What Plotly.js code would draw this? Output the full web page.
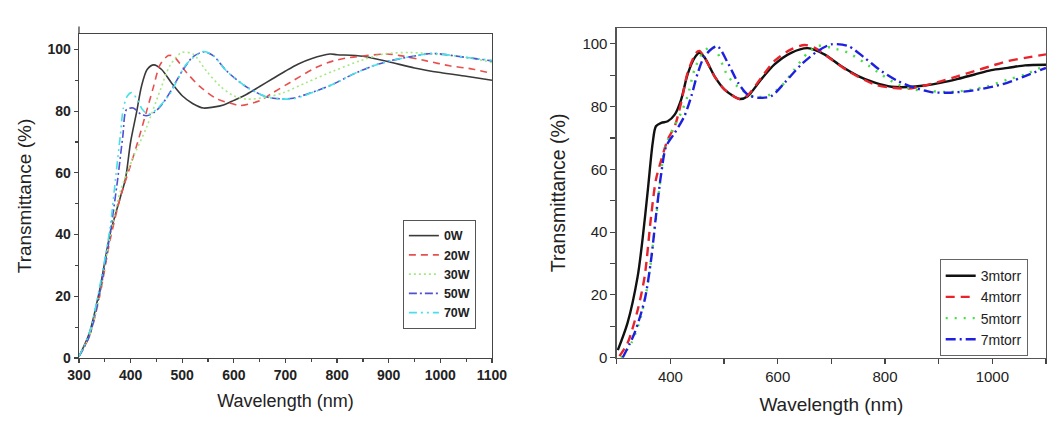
<!DOCTYPE html>
<html>
<head>
<meta charset="utf-8">
<script src="https://cdn.plot.ly/plotly-3.0.1.min.js"></script>
<style>html,body{margin:0;padding:0;background:#fff;}#chart{width:1063px;height:422px;}</style>
</head>
<body>
<div id="chart"></div>
<script>
// ---- Left panel: RF power series ----
const leftNames = ['0W', '20W', '30W', '50W', '70W'];
const wl_0W = [300, 320, 340, 360, 380, 390, 400, 412, 421, 432, 445, 460, 480, 500, 520, 541, 560, 580, 600, 625, 650, 675, 700, 725, 750, 786, 800, 850, 900, 950, 1000, 1050, 1100];
const T_0W  = [0.5, 8, 22, 40, 52, 58, 70, 80, 88, 93.5, 95, 93.5, 89, 85, 82.5, 81, 81.3, 82, 83.5, 85.5, 88, 90.5, 93, 95.3, 97, 98.5, 98.3, 97.8, 96, 94, 92.5, 91.3, 90];
const wl_20W = [300, 320, 340, 360, 380, 399, 412, 431, 444, 457, 473, 483, 508, 534, 567, 599, 612, 650, 676, 709, 760, 793, 825, 857, 896, 922, 973, 1018, 1064, 1100];
const T_20W  = [0.5, 7, 20, 38, 52, 62, 69, 80, 87.7, 95, 98, 97.8, 92.6, 88, 84, 82.3, 81.8, 83.4, 86, 89.3, 94.2, 96.3, 97.4, 98, 98.5, 98, 96.3, 94.7, 93.6, 92.2];
const wl_30W = [300, 320, 340, 360, 380, 405, 431, 457, 476, 499, 521, 547, 573, 599, 625, 663, 696, 741, 793, 844, 889, 941, 986, 1051, 1100];
const T_30W  = [0.5, 7, 20, 39, 54, 65, 74.8, 86.6, 94.7, 99, 98.5, 93, 88.2, 85, 83.9, 84.5, 86, 89.3, 93, 96.3, 98.5, 99, 98.5, 97.4, 95.8];
const wl_50W = [300, 320, 340, 360, 375, 385, 392, 405, 420, 431, 445, 460, 476, 500, 520, 541, 560, 586, 625, 664, 690, 715, 760, 793, 831, 870, 902, 954, 986, 1051, 1100];
const T_50W  = [0.5, 7, 21, 40, 58, 72, 80.5, 81, 79, 78.5, 79.5, 82, 86, 93, 97.5, 99.2, 98, 93, 87.8, 84.6, 84, 84.2, 86.6, 88.8, 92, 94.7, 96.3, 98, 98.7, 97.4, 96.3];
const wl_70W = [300, 320, 340, 360, 372, 380, 386, 394, 402, 412, 423, 434, 450, 476, 509, 541, 560, 586, 625, 664, 690, 715, 760, 793, 831, 870, 902, 954, 986, 1051, 1100];
const T_70W  = [0.5, 8, 23, 42, 60, 72, 81, 85, 86, 84, 80.5, 79, 80.5, 85.6, 95.4, 99.3, 98, 93, 87.8, 84.6, 84, 84, 86.5, 88.8, 92, 94.7, 96.3, 98, 98.7, 97.4, 96.5];

// ---- Right panel: pressure series ----
const rightNames = ['3mtorr', '4mtorr', '5mtorr', '7mtorr'];
const wl_3m = [302, 320, 339, 348, 358, 367, 373, 383, 395, 408, 420, 432, 445, 454, 464, 482, 501, 529, 544, 569, 594, 625, 656, 687, 718, 750, 781, 812, 843, 874, 905, 936, 967, 998, 1029, 1061, 1100];
const T_3m  = [2.4, 11, 25.9, 37.6, 53.5, 68.4, 73.7, 74.8, 75.3, 77.4, 82.2, 90.2, 95.5, 97.1, 95.5, 89.7, 85.4, 82.4, 83.3, 88.6, 93.4, 97.1, 98.6, 96.6, 92.9, 89.7, 87.6, 86.3, 86.2, 86.7, 87.6, 88.8, 90.2, 91.6, 92.3, 93.1, 93.3];
const wl_4m = [305, 320, 339, 352, 364, 373, 383, 395, 408, 420, 432, 448, 454, 464, 482, 501, 529, 544, 569, 594, 625, 650, 669, 700, 731, 781, 812, 843, 874, 905, 936, 967, 998, 1029, 1061, 1100];
const T_4m  = [0.5, 4.6, 15.2, 25.9, 45, 56.7, 63, 69.5, 73.7, 81.2, 90.7, 97.1, 97.7, 95.5, 89.7, 85.4, 82.4, 83.6, 89.1, 94.5, 98.2, 99.6, 98.7, 95, 91.3, 87, 86, 85.7, 86.7, 88.1, 89.7, 91.3, 92.9, 94.5, 95.5, 96.6];
const wl_5m = [308, 327, 345, 358, 370, 380, 389, 401, 420, 432, 445, 460, 479, 507, 532, 557, 582, 607, 631, 656, 675, 700, 731, 762, 793, 824, 855, 886, 917, 955, 992, 1029, 1061, 1100];
const T_5m  = [0, 4.6, 13, 23.7, 39.7, 54.6, 66.3, 71.6, 78, 83.3, 91.8, 97, 99.3, 89.7, 85.4, 83.1, 83.5, 86.5, 91.8, 97.1, 99.3, 98.7, 97.1, 93.9, 90.2, 87, 85.4, 84.9, 84.6, 85.2, 86.5, 88.6, 90.2, 93.2];
const wl_7m = [311, 333, 352, 364, 373, 383, 392, 408, 426, 439, 451, 464, 487, 507, 526, 544, 563, 588, 613, 644, 675, 700, 731, 762, 793, 824, 855, 886, 917, 955, 992, 1029, 1061, 1100];
const T_7m  = [0, 7.8, 18.4, 31.2, 45, 58.8, 67.3, 71.6, 76.9, 83.3, 90.7, 96.1, 99.2, 93.9, 87.6, 83.8, 82.8, 83.3, 87.6, 93.4, 97.7, 99.8, 99.3, 95.5, 91.3, 88.1, 86, 84.6, 84.4, 84.9, 86, 87.6, 89.7, 92.3];

const leftX = [wl_0W, wl_20W, wl_30W, wl_50W, wl_70W];
const leftY = [T_0W, T_20W, T_30W, T_50W, T_70W];
const leftStyle = [
  {color: '#3a3a3a', dash: 'solid'},
  {color: '#e85050', dash: '7px,5px'},
  {color: '#a6e884', dash: '2px,3px'},
  {color: '#5050d0', dash: '8px,3px,2px,3px'},
  {color: '#48e0e8', dash: '8px,4px,2px,4px,2px,4px'}
];
const rightX = [wl_3m, wl_4m, wl_5m, wl_7m];
const rightY = [T_3m, T_4m, T_5m, T_7m];
const rightStyle = [
  {color: '#111111', dash: 'solid'},
  {color: '#e8232b', dash: '9px,6px'},
  {color: '#44e044', dash: '2px,7px'},
  {color: '#1f1fe0', dash: '10px,4px,2px,4px'}
];

const traces = [];
leftNames.forEach((n, i) => traces.push({
  x: leftX[i], y: leftY[i], name: n, type: 'scatter', mode: 'lines',
  line: {color: leftStyle[i].color, dash: leftStyle[i].dash, width: 1.6, shape: 'spline', smoothing: 0.8},
  xaxis: 'x', yaxis: 'y', legend: 'legend'
}));
rightNames.forEach((n, i) => traces.push({
  x: rightX[i], y: rightY[i], name: n, type: 'scatter', mode: 'lines',
  line: {color: rightStyle[i].color, dash: rightStyle[i].dash, width: 2.4, shape: 'spline', smoothing: 0.8},
  xaxis: 'x2', yaxis: 'y2', legend: 'legend2'
}));

const FAM = 'Liberation Sans, Arial, sans-serif';
const axBase = {
  showgrid: false, zeroline: false, showline: true, mirror: true, linewidth: 1.3,
  ticks: 'outside', ticklen: 4, tickwidth: 1.2, automargin: false, fixedrange: true
};

const layout = {
  width: 1063, height: 422,
  margin: {l: 0, r: 0, t: 0, b: 0},
  paper_bgcolor: '#fff', plot_bgcolor: '#fff',
  showlegend: true,
  font: {family: FAM, color: '#222'},
  xaxis: Object.assign({}, axBase, {
    domain: [0.0743, 0.4628], range: [300, 1100], dtick: 100, tick0: 300,
    linecolor: '#444', tickcolor: '#444',
    minor: {dtick: 50, ticks: 'outside', ticklen: 3, tickcolor: '#444'},
    tickfont: {family: FAM, size: 14, color: '#222', weight: 'bold'},
    title: {text: 'Wavelength (nm)', font: {family: FAM, size: 18, color: '#222'}, standoff: 12},
    anchor: 'y'
  }),
  yaxis: Object.assign({}, axBase, {
    domain: [0.1517, 0.9194], range: [0, 105], dtick: 20,
    linecolor: '#444', tickcolor: '#444',
    minor: {dtick: 10, ticks: 'outside', ticklen: 3, tickcolor: '#444'},
    tickfont: {family: FAM, size: 14, color: '#222', weight: 'bold'},
    title: {text: 'Transmittance (%)', font: {family: FAM, size: 19, color: '#222'}, standoff: 11},
    anchor: 'x'
  }),
  xaxis2: Object.assign({}, axBase, {
    domain: [0.5802, 0.984], range: [300, 1100], dtick: 200, tick0: 0,
    linecolor: '#555', tickcolor: '#444', ticklen: 5,
    minor: {dtick: 100, ticks: 'outside', ticklen: 5, tickcolor: '#444'},
    tickfont: {family: FAM, size: 15, color: '#222'},
    title: {text: 'Wavelength (nm)', font: {family: FAM, size: 19, color: '#222'}, standoff: 13},
    anchor: 'y2'
  }),
  yaxis2: Object.assign({}, axBase, {
    domain: [0.1524, 0.9336], range: [0, 105], dtick: 20,
    linecolor: '#555', tickcolor: '#444', ticklen: 5,
    minor: {dtick: 10, ticks: 'outside', ticklen: 5, tickcolor: '#444'},
    tickfont: {family: FAM, size: 15, color: '#222'},
    title: {text: 'Transmittance (%)', font: {family: FAM, size: 19.5, color: '#222'}, standoff: 11},
    anchor: 'x2'
  }),
  legend: {
    x: 0.379, y: 0.4787, xanchor: 'left', yanchor: 'top',
    bgcolor: '#fff', bordercolor: '#555', borderwidth: 1,
    font: {family: FAM, size: 12.5, color: '#222', weight: 'bold'},
    itemwidth: 30, tracegroupgap: 0
  },
  legend2: {
    x: 0.884, y: 0.386, xanchor: 'left', yanchor: 'top',
    bgcolor: '#fff', bordercolor: '#666', borderwidth: 1,
    font: {family: FAM, size: 14, color: '#222'},
    itemwidth: 30, tracegroupgap: 0
  },
  shapes: [
    {type: 'line', xref: 'paper', yref: 'paper', x0: 0.0743, x1: 0.0743, y0: 0.9194, y1: 0.937, line: {color: '#444', width: 1.3}}
  ]
};

Plotly.newPlot('chart', traces, layout, {displayModeBar: false, staticPlot: true});
</script>
</body>
</html>
